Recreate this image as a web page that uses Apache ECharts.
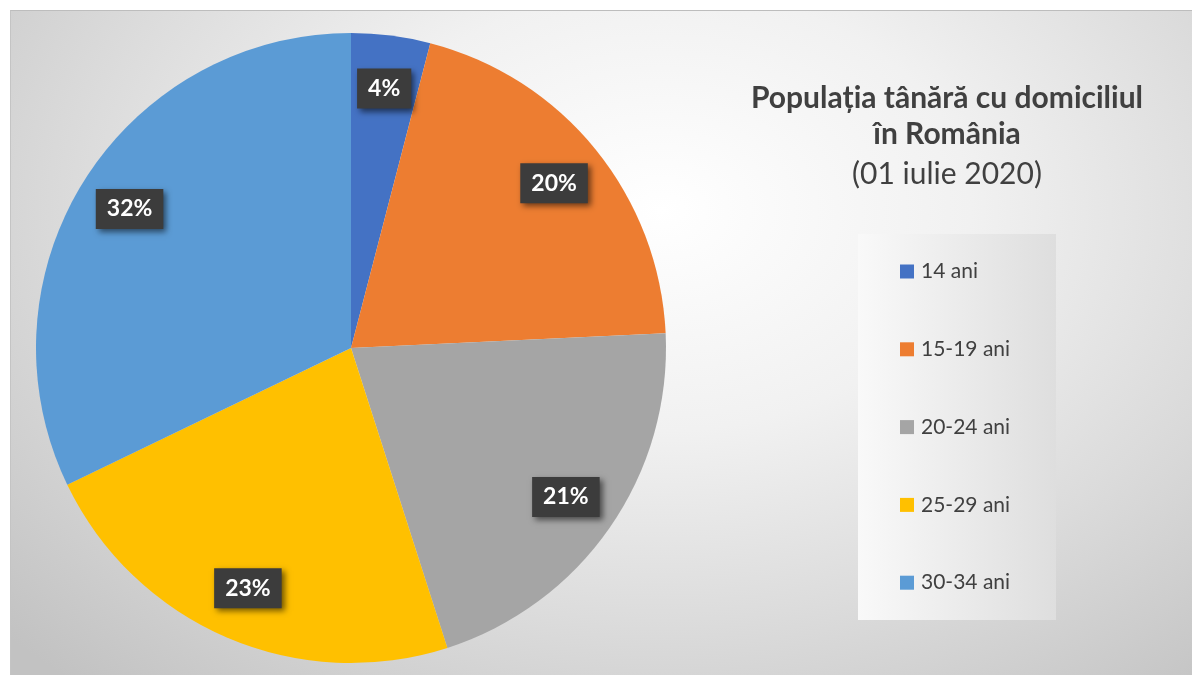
<!DOCTYPE html>
<html>
<head>
<meta charset="utf-8">
<script src="https://cdn.jsdelivr.net/npm/echarts@6/dist/echarts.min.js"></script>
<style>
  html, body { margin: 0; padding: 0; background: #fff; }
  #bg {
    position: absolute; left: 10px; top: 10px; width: 1182px; height: 665px;
    border-top: 1px solid #bdbdbd; border-left: 1px solid #c4c4c4;
    box-sizing: border-box;
    background: radial-gradient(ellipse 75% 95% at 55% 30%, #ffffff 0%, #f1f1f1 35%, #dcdcdc 65%, #c2c2c2 100%);
  }
  #main { position: absolute; left: 0; top: 0; width: 1192px; height: 675px; }
</style>
</head>
<body>
<div id="bg"></div>
<div id="main"></div>
<script>
// categorii si valori (procente)
var categories = ["14 ani", "15-19 ani", "20-24 ani", "25-29 ani", "30-34 ani"];
var values = [4.05, 20.2, 20.8, 22.8, 32.15];
var colors = ["#4472C4", "#ED7D31", "#A5A5A5", "#FFC000", "#5B9BD5"];

var titleLine1 = "Populația tânără cu domiciliul";
var titleLine2 = "în România";
var titleLine3 = "(01 iulie 2020)";

var pieData = categories.map(function (name, i) {
  return { name: name, value: values[i] };
});

var myChart = echarts.init(document.getElementById("main"), null, { renderer: "canvas" });

let option = {
  backgroundColor: "transparent",
  color: colors,
  animation: false,
  title: {
    text: "{b|" + titleLine1 + "}\n{b|" + titleLine2 + "}\n{n|" + titleLine3 + "}",
    left: 942,
    top: 75,
    textAlign: "center",
    textStyle: {
      rich: {
        b: { fontFamily: "Lato", fontSize: 30, fontWeight: "bold", color: "#404040", lineHeight: 36, align: "center" },
        n: { fontFamily: "Lato", fontSize: 30, fontWeight: "normal", color: "#404040", lineHeight: 44, align: "center" },
      },
    },
  },
  graphic: [
    {
      type: "rect",
      z: -1,
      shape: { x: 858, y: 234, width: 198, height: 386 },
      style: {
        fill: {
          type: "linear", x: 0, y: 0, x2: 1, y2: 0,
          colorStops: [
            { offset: 0, color: "#f9f9f9" },
            { offset: 1, color: "#dedede" },
          ],
        },
      },
    },
  ],
  legend: {
    orient: "vertical",
    left: 895,
    top: 256,
    itemWidth: 14,
    itemHeight: 14,
    itemGap: 56.8,
    icon: "rect",
    data: categories,
    textStyle: {
      fontFamily: "Lato",
      fontSize: 21,
      color: "#404040",
      lineHeight: 20,
      padding: [0, 0, 0, 2],
    },
  },
  series: [
    {
      name: "Populatie",
      type: "pie",
      center: [351, 348],
      radius: 315,
      startAngle: 90,
      clockwise: true,
      silent: true,
      label: { show: false },
      labelLine: { show: false },
      data: pieData,
    },
    {
      // seria transparenta doar pentru etichete (pozitionare ~82% din raza)
      name: "Etichete",
      type: "pie",
      center: [351, 348],
      radius: [202, 315],
      startAngle: 90,
      clockwise: true,
      silent: true,
      percentPrecision: 0,
      itemStyle: { color: "rgba(0,0,0,0)" },
      label: {
        show: true,
        position: "inside",
        formatter: "{d}%",
        fontFamily: "Lato",
        fontSize: 23,
        fontWeight: "bold",
        color: "#ffffff",
        backgroundColor: "#3c3c3c",
        padding: [9, 11, 8, 11],
        shadowColor: "rgba(0,0,0,0.55)",
        shadowBlur: 6,
        shadowOffsetX: 3,
        shadowOffsetY: 3,
      },
      labelLine: { show: false },
      data: pieData,
    },
  ],
};
myChart.setOption(option);
</script>
</body>
</html>
